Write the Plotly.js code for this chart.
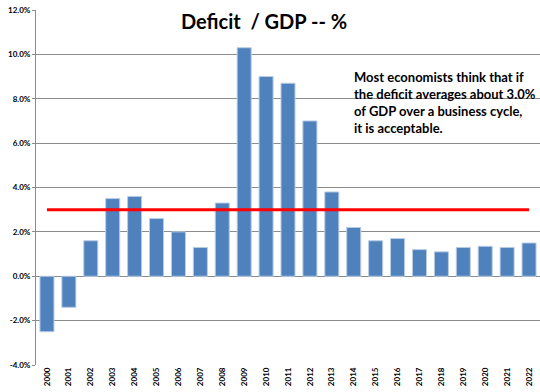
<!DOCTYPE html>
<html>
<head>
<meta charset="utf-8">
<script src="https://cdn.plot.ly/plotly-3.0.1.min.js"></script>
<style>html,body{margin:0;padding:0;background:#fff;}#chart{width:540px;height:392px;}</style>
</head>
<body>
<div id="chart"></div>
<script>
const years = ['2000','2001','2002','2003','2004','2005','2006','2007','2008','2009','2010','2011',
  '2012','2013','2014','2015','2016','2017','2018','2019','2020','2021','2022'];
const deficitPct = [-2.5,-1.4,1.6,3.5,3.6,2.6,2.0,1.3,3.3,10.3,9.0,8.7,
  7.0,3.8,2.2,1.6,1.7,1.2,1.1,1.3,1.35,1.3,1.5];
const thresholdYears = ['2000','2022'];
const thresholdPct = [3.0,3.0];
const yTicks = [-4,-2,0,2,4,6,8,10,12];
const yTickLabels = ['-4.0%','-2.0%','0.0%','2.0%','4.0%','6.0%','8.0%','10.0%','12.0%'];
const titleText = 'Deficit  / GDP -- %';
const noteText = 'Most economists think that if<br>the deficit averages about 3.0%<br>of GDP over a business cycle,<br>it is acceptable.';

const font = 'Lato, "Open Sans", sans-serif';
const data = [
  {type:'bar', x:years, y:deficitPct,
   marker:{color:'#4F81BD', line:{color:'#B9CDE5', width:1}},
   hoverinfo:'x+y'},
  {type:'scatter', mode:'lines', x:thresholdYears, y:thresholdPct,
   line:{color:'#FF0000', width:3}, hoverinfo:'skip'}
];
const layout = {
  width:540, height:392,
  margin:{l:36, r:0, t:10, b:27},
  paper_bgcolor:'#fff', plot_bgcolor:'#fff',
  showlegend:false,
  bargap:0.36,
  title:{text:'<b>'+titleText+'</b>', font:{family:font, size:20, color:'#000'},
    x:0.489, xref:'container', xanchor:'center', y:0.944, yref:'container', yanchor:'middle'},
  xaxis:{type:'category', tickangle:-90, tickfont:{family:font, size:8, color:'#000', weight:'bold'},
    showgrid:false, showline:false, zeroline:false, ticks:'', ticklen:0, automargin:false},
  yaxis:{range:[-4,12], tickvals:yTicks, ticktext:yTickLabels,
    tickfont:{family:font, size:8, color:'#000', weight:'bold'},
    showgrid:true, gridcolor:'#8C8C8C', gridwidth:1,
    zeroline:true, zerolinecolor:'#8C8C8C', zerolinewidth:1,
    showline:true, linecolor:'#8C8C8C', linewidth:1,
    ticks:'outside', ticklen:3, tickcolor:'#8C8C8C', automargin:false},
  annotations:[{text:'<b>'+noteText+'</b>', xref:'paper', yref:'paper', x:0.627, y:0.84,
    xanchor:'left', yanchor:'top', align:'left', showarrow:false,
    font:{family:font, size:13, color:'#000'}}]
};
Plotly.newPlot('chart', data, layout, {displayModeBar:false, staticPlot:true});
</script>
</body>
</html>
